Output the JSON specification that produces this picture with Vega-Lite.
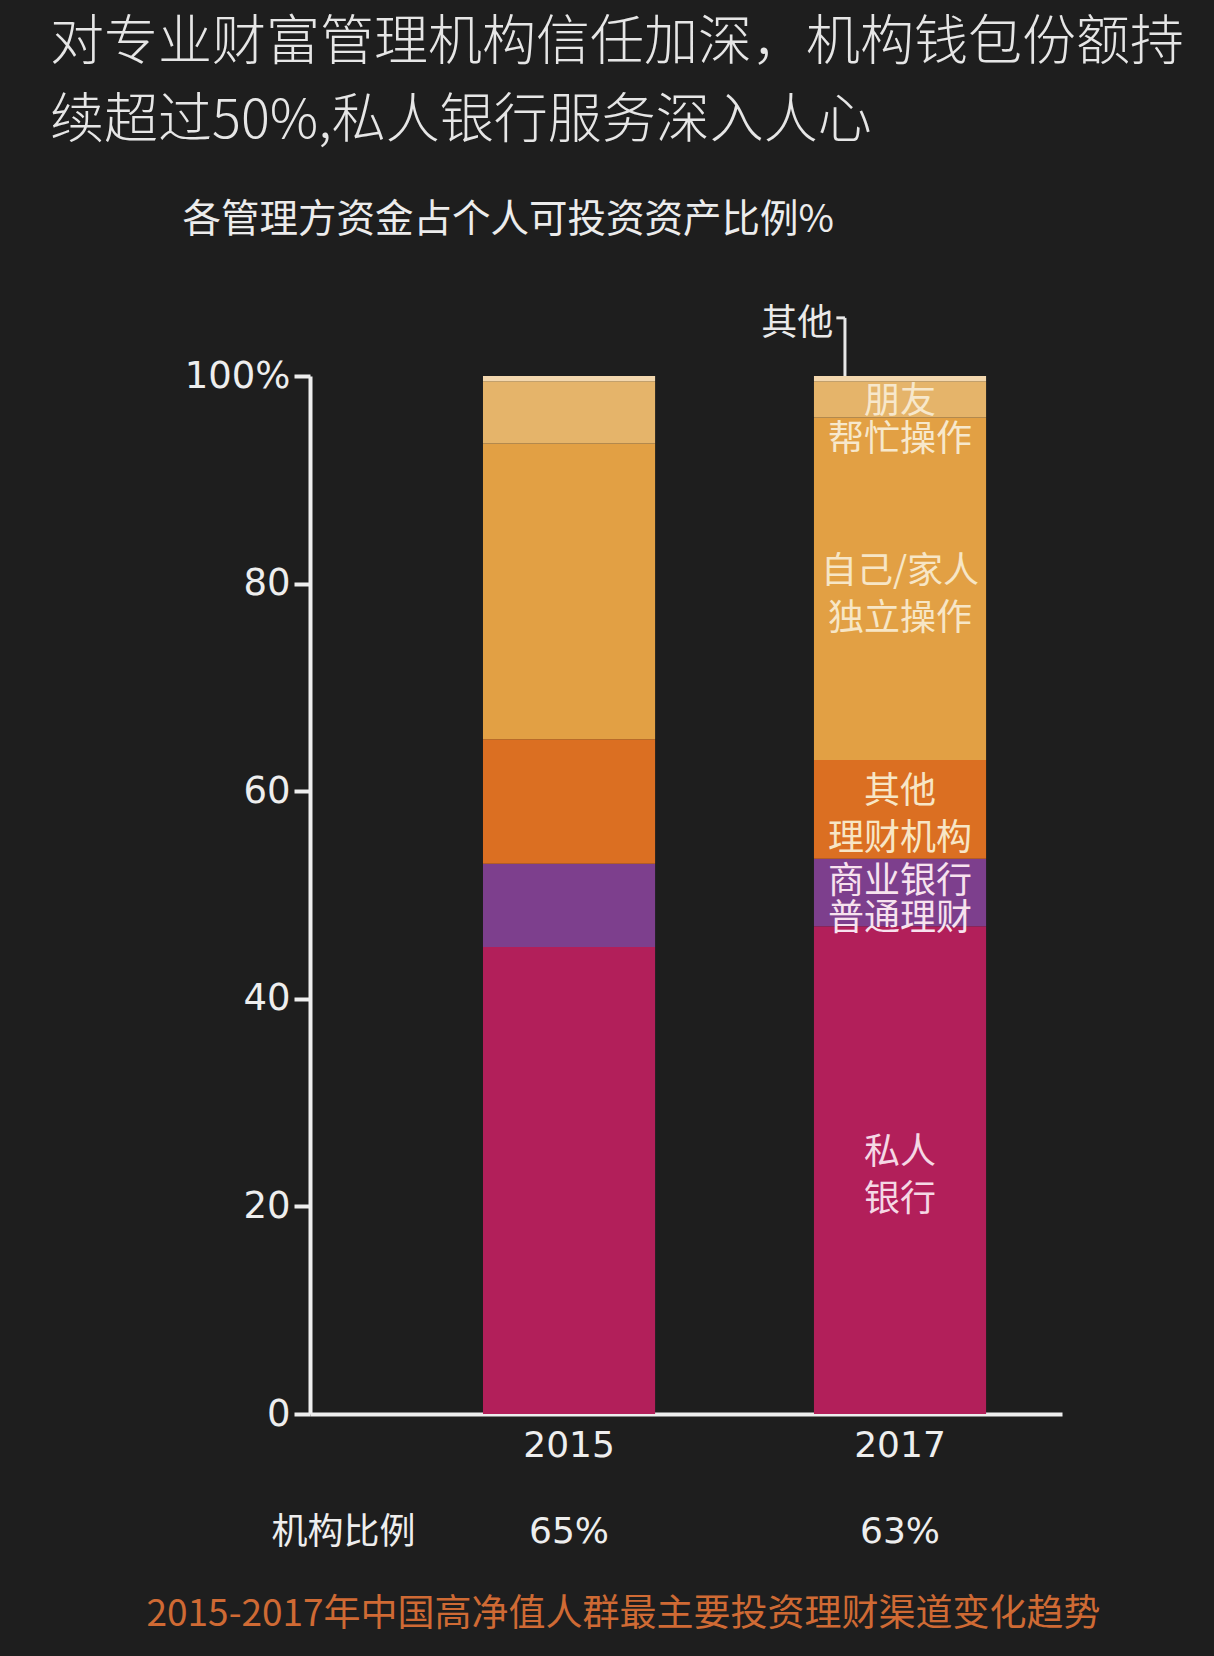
{
  "$schema": "https://vega.github.io/schema/vega-lite/v6.json",
  "autosize": {"type": "none"},
  "width": 752,
  "height": 1038,
  "padding": {"left": 310, "top": 376, "right": 152, "bottom": 242},
  "background": "#1e1e1e",
  "config": {"view": {"stroke": null}, "font": "Noto Sans CJK SC"},
  "title": {
    "text": ["对专业财富管理机构信任加深，机构钱包份额持", "续超过50%,私人银行服务深入人心"],
    "anchor": "start",
    "frame": "group",
    "dx": -260,
    "offset": 51,
    "fontSize": 54,
    "lineHeight": 78,
    "color": "#e6e6e6",
    "font": "Noto Sans CJK SC",
    "fontWeight": 300
  },
  "data": {
    "values": [
      {"year": "2015", "category": "私人银行", "label": "私人\n银行", "value": 45},
      {"year": "2015", "category": "商业银行普通理财", "label": "商业银行\n普通理财", "value": 8},
      {"year": "2015", "category": "其他理财机构", "label": "其他\n理财机构", "value": 12},
      {"year": "2015", "category": "自己/家人独立操作", "label": "自己/家人\n独立操作", "value": 28.5},
      {"year": "2015", "category": "朋友帮忙操作", "label": "朋友\n帮忙操作", "value": 6},
      {"year": "2015", "category": "其他", "label": "其他", "value": 0.5},
      {"year": "2017", "category": "私人银行", "label": "私人\n银行", "value": 47},
      {"year": "2017", "category": "商业银行普通理财", "label": "商业银行\n普通理财", "value": 6.5},
      {"year": "2017", "category": "其他理财机构", "label": "其他\n理财机构", "value": 9.5},
      {"year": "2017", "category": "自己/家人独立操作", "label": "自己/家人\n独立操作", "value": 33},
      {"year": "2017", "category": "朋友帮忙操作", "label": "朋友\n帮忙操作", "value": 3.5},
      {"year": "2017", "category": "其他", "label": "其他", "value": 0.5}
    ]
  },
  "transform": [
    {"calculate": "indexof(['私人银行','商业银行普通理财','其他理财机构','自己/家人独立操作','朋友帮忙操作','其他'], datum.category)", "as": "rank"}
  ],
  "layer": [
    {
      "mark": {"type": "bar"},
      "encoding": {
        "x": {
          "field": "year",
          "type": "nominal",
          "scale": {"paddingInner": 0.48, "paddingOuter": 0.376, "align": 0.695},
          "axis": {
            "orient": "bottom",
            "labelAngle": 0,
            "labelFont": "DejaVu Sans",
            "labelFontSize": 36,
            "labelColor": "#eeeeee",
            "labelPadding": 14,
            "ticks": false,
            "domainColor": "#eeeeee",
            "domainWidth": 4,
            "title": "2015-2017年中国高净值人群最主要投资理财渠道变化趋势",
            "titleFont": "Noto Sans CJK SC",
            "titleFontSize": 37,
            "titleFontWeight": "normal",
            "titleColor": "#cf6a34",
            "titleAlign": "left",
            "titleBaseline": "middle",
            "titleAngle": 0,
            "titleX": -164,
            "titleY": 200
          }
        },
        "y": {
          "field": "value",
          "type": "quantitative",
          "stack": "zero",
          "scale": {"domain": [0, 100], "nice": false},
          "axis": {
            "orient": "left",
            "values": [0, 20, 40, 60, 80, 100],
            "labelExpr": "datum.value === 100 ? '100%' : datum.label",
            "labelFont": "DejaVu Sans",
            "labelFontSize": 37,
            "labelColor": "#eeeeee",
            "labelPadding": 4,
            "tickSize": 16,
            "tickWidth": 4,
            "tickColor": "#eeeeee",
            "domainColor": "#eeeeee",
            "domainWidth": 4,
            "grid": false,
            "title": "各管理方资金占个人可投资资产比例%",
            "titleFont": "Noto Sans CJK SC",
            "titleFontSize": 38.5,
            "titleFontWeight": "normal",
            "titleColor": "#ececec",
            "titleAngle": 0,
            "titleAlign": "left",
            "titleBaseline": "middle",
            "titleX": -128,
            "titleY": -157
          }
        },
        "color": {
          "field": "category",
          "type": "nominal",
          "scale": {
            "domain": ["私人银行", "商业银行普通理财", "其他理财机构", "自己/家人独立操作", "朋友帮忙操作", "其他"],
            "range": ["#b21f5a", "#7d3f8d", "#db6f22", "#e2a044", "#e5b46a", "#f3d7ae"]
          },
          "legend": null
        },
        "order": {"field": "rank", "type": "quantitative"}
      }
    },
    {
      "transform": [
        {"stack": "value", "groupby": ["year"], "sort": [{"field": "rank", "order": "ascending"}], "as": ["v0", "v1"]},
        {"calculate": "(datum.v0 + datum.v1) / 2", "as": "mid"},
        {"filter": "datum.year === '2017' && indexof(['私人银行','其他理财机构','自己/家人独立操作'], datum.category) >= 0"}
      ],
      "mark": {"type": "text", "lineBreak": "\n", "font": "Noto Sans CJK SC", "fontSize": 36, "lineHeight": 47, "baseline": "middle", "dy": -17},
      "encoding": {
        "x": {"field": "year", "type": "nominal", "axis": null},
        "y": {"field": "mid", "type": "quantitative", "axis": null},
        "text": {"field": "label"},
        "color": {"condition": {"test": "datum.category === '私人银行'", "value": "#f5d8e5"}, "value": "#f7e6c6"}
      }
    },
    {
      "transform": [
        {"stack": "value", "groupby": ["year"], "sort": [{"field": "rank", "order": "ascending"}], "as": ["v0", "v1"]},
        {"calculate": "(datum.v0 + datum.v1) / 2", "as": "mid"},
        {"filter": "datum.year === '2017' && datum.category === '商业银行普通理财'"}
      ],
      "mark": {"type": "text", "lineBreak": "\n", "font": "Noto Sans CJK SC", "fontSize": 36, "lineHeight": 37, "baseline": "middle", "dy": -10, "color": "#f7e2ee"},
      "encoding": {
        "x": {"field": "year", "type": "nominal", "axis": null},
        "y": {"field": "mid", "type": "quantitative", "axis": null},
        "text": {"field": "label"}
      }
    },
    {
      "transform": [
        {"stack": "value", "groupby": ["year"], "sort": [{"field": "rank", "order": "ascending"}], "as": ["v0", "v1"]},
        {"calculate": "(datum.v0 + datum.v1) / 2", "as": "mid"},
        {"filter": "datum.year === '2017' && datum.category === '朋友帮忙操作'"}
      ],
      "mark": {"type": "text", "lineBreak": "\n", "font": "Noto Sans CJK SC", "fontSize": 36, "lineHeight": 38, "baseline": "middle", "dy": 3, "color": "#f7e8cc"},
      "encoding": {
        "x": {"field": "year", "type": "nominal", "axis": null},
        "y": {"field": "mid", "type": "quantitative", "axis": null},
        "text": {"field": "label"}
      }
    },
    {
      "transform": [
        {"stack": "value", "groupby": ["year"], "sort": [{"field": "rank", "order": "ascending"}], "as": ["v0", "v1"]},
        {"filter": "datum.year === '2017' && datum.category === '其他'"}
      ],
      "mark": {"type": "rule", "color": "#e8e8e8", "strokeWidth": 3},
      "encoding": {
        "x": {"field": "year", "type": "nominal", "bandPosition": 0.18, "axis": null},
        "y": {"field": "v1", "type": "quantitative", "axis": null},
        "y2": {"datum": 105.6}
      }
    },
    {
      "transform": [
        {"filter": "datum.year === '2017' && datum.category === '其他'"}
      ],
      "mark": {"type": "rule", "color": "#e8e8e8", "strokeWidth": 3},
      "encoding": {
        "x": {"field": "year", "type": "nominal", "bandPosition": 0.13, "axis": null},
        "x2": {"field": "year", "bandPosition": 0.18},
        "y": {"datum": 105.6, "type": "quantitative", "axis": null}
      }
    },
    {
      "transform": [
        {"filter": "datum.year === '2017' && datum.category === '其他'"}
      ],
      "mark": {"type": "text", "font": "Noto Sans CJK SC", "fontSize": 36, "align": "right", "baseline": "middle", "dx": -3, "dy": 2, "color": "#eaeaea"},
      "encoding": {
        "x": {"field": "year", "type": "nominal", "bandPosition": 0.13, "axis": null},
        "y": {"datum": 105.2, "type": "quantitative", "axis": null},
        "text": {"field": "category"}
      }
    },
    {
      "transform": [
        {"filter": {"field": "category", "oneOf": ["私人银行", "商业银行普通理财", "其他理财机构"]}},
        {"aggregate": [{"op": "sum", "field": "value", "as": "total"}], "groupby": ["year"]},
        {"calculate": "format(datum.total, '.0f') + '%'", "as": "pct"}
      ],
      "mark": {"type": "text", "font": "DejaVu Sans", "fontSize": 36, "color": "#eeeeee", "baseline": "middle"},
      "encoding": {
        "x": {"field": "year", "type": "nominal", "axis": null},
        "y": {
          "datum": -11.37,
          "type": "quantitative",
          "axis": {
            "orient": "right",
            "domain": false,
            "ticks": false,
            "labels": false,
            "grid": false,
            "title": "机构比例",
            "titleFont": "Noto Sans CJK SC",
            "titleFontSize": 36,
            "titleFontWeight": "normal",
            "titleColor": "#eeeeee",
            "titleAngle": 0,
            "titleAlign": "center",
            "titleBaseline": "middle",
            "titleX": -719,
            "titleY": 1156
          }
        },
        "text": {"field": "pct"}
      }
    }
  ],
  "resolve": {"axis": {"x": "independent", "y": "independent"}}
}
